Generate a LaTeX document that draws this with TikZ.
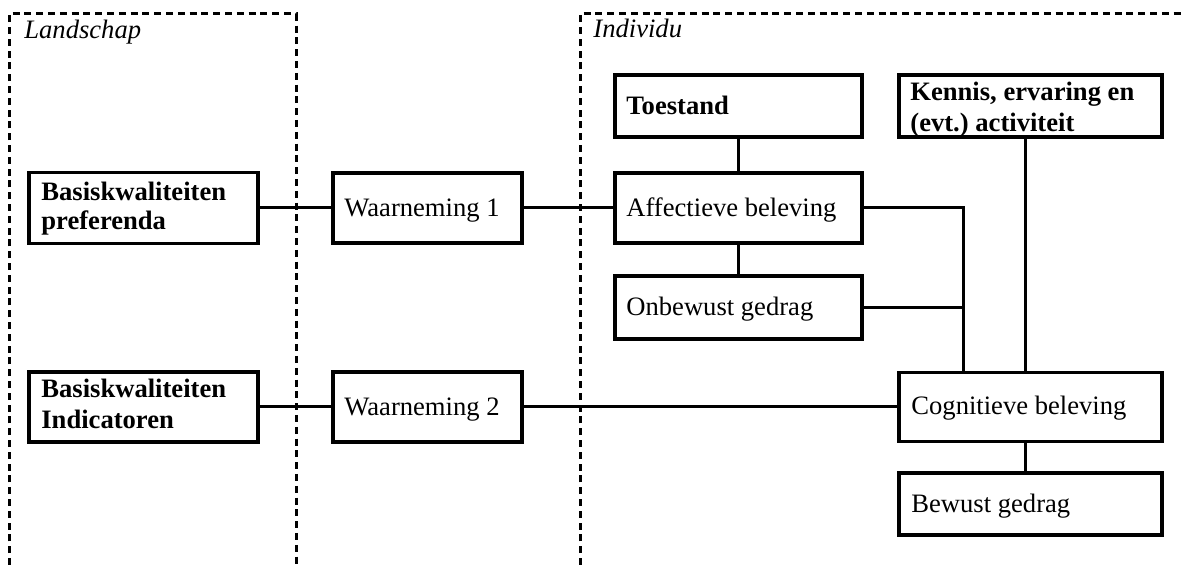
\documentclass[tikz,border=0pt]{standalone}
\usepackage{fontspec}
\setmainfont{Liberation Serif}
\frenchspacing
\begin{document}
\begin{tikzpicture}[x=0.5pt,y=-0.5pt,
  box/.style={draw, line width=1.65pt, rectangle, inner sep=0pt, anchor=center},
  txt/.style={inner sep=0pt, anchor=base west, font=\fontsize{13.3}{15}\selectfont},
  btxt/.style={txt, font=\fontsize{13.3}{15}\selectfont\bfseries},
  conn/.style={line width=1.5pt},
  zone/.style={line width=1.5pt, dash pattern=on 3.5pt off 2.4pt},
  lbl/.style={font=\fontsize{13.3}{15}\selectfont\itshape, anchor=base west, inner sep=0pt}]
\useasboundingbox (0,0) rectangle (1182,565);
% zones
\draw[zone] (9,565) -- (9,14) -- (296,14) -- (296,565);
\draw[zone] (580,565) -- (580,14) -- (1182,14);
\node[lbl] (ls) at (24,39) {Landschap};
\node[lbl] (ind) at (593,38) {Individu};
% boxes
\node[box, minimum width=114.5pt, minimum height=35.5pt] (bp) at (143.5,208) {};
\node[box, minimum width=94.5pt, minimum height=35pt] (w1) at (427.5,208) {};
\node[box, minimum width=123.5pt, minimum height=31pt] (toe) at (738.5,106) {};
\node[box, minimum width=123.5pt, minimum height=35pt] (aff) at (738.5,208) {};
\node[box, minimum width=123.5pt, minimum height=31.5pt] (onb) at (738.5,307.5) {};
\node[box, minimum width=131.5pt, minimum height=31pt] (ken) at (1030.5,106) {};
\node[box, minimum width=114.5pt, minimum height=35pt] (bi) at (143.5,407) {};
\node[box, minimum width=94.5pt, minimum height=35pt] (w2) at (427.5,407) {};
\node[box, minimum width=131.5pt, minimum height=34.5pt] (cog) at (1030.5,407) {};
\node[box, minimum width=131.5pt, minimum height=31pt] (bew) at (1030.5,504) {};
% texts
\node[btxt] (bpt1) at (41,201) {Basiskwaliteiten};
\node[btxt] (bpt2) at (41,230) {preferenda};
\node[txt] (w1t) at (344,217) {Waarneming 1};
\node[btxt] (toet) at (626,115) {Toestand};
\node[txt] (afft) at (626,217) {Affectieve beleving};
\node[txt] (onbt) at (626,316) {Onbewust gedrag};
\node[btxt] (kent1) at (910,101) {Kennis, ervaring en};
\node[btxt] (kent2) at (910,132) {(evt.) activiteit};
\node[btxt] (bit1) at (41,398) {Basiskwaliteiten};
\node[btxt] (bit2) at (41,429) {Indicatoren};
\node[txt] (w2t) at (344,416) {Waarneming 2};
\node[txt] (cogt) at (911,415) {Cognitieve beleving};
\node[txt] (bewt) at (911,513) {Bewust gedrag};
% connectors
\coordinate (jx) at (963,208);
\coordinate (kx) at (1025,0);
\draw[conn] (bp.east) -- (w1.west);
\draw[conn] (w1.east) -- (aff.west);
\draw[conn] (toe) -- (aff);
\draw[conn] (aff) -- (onb);
\draw[conn] (aff.east) -- (jx) -- (jx |- cog.north);
\draw[conn] (onb.east) -- (onb.east -| jx);
\draw[conn] (ken.south -| kx) -- (cog.north -| kx);
\draw[conn] (cog.south -| kx) -- (bew.north -| kx);
\draw[conn] (bi.east) -- (w2.west);
\draw[conn] (w2.east) -- (cog.west);
\end{tikzpicture}
\end{document}
